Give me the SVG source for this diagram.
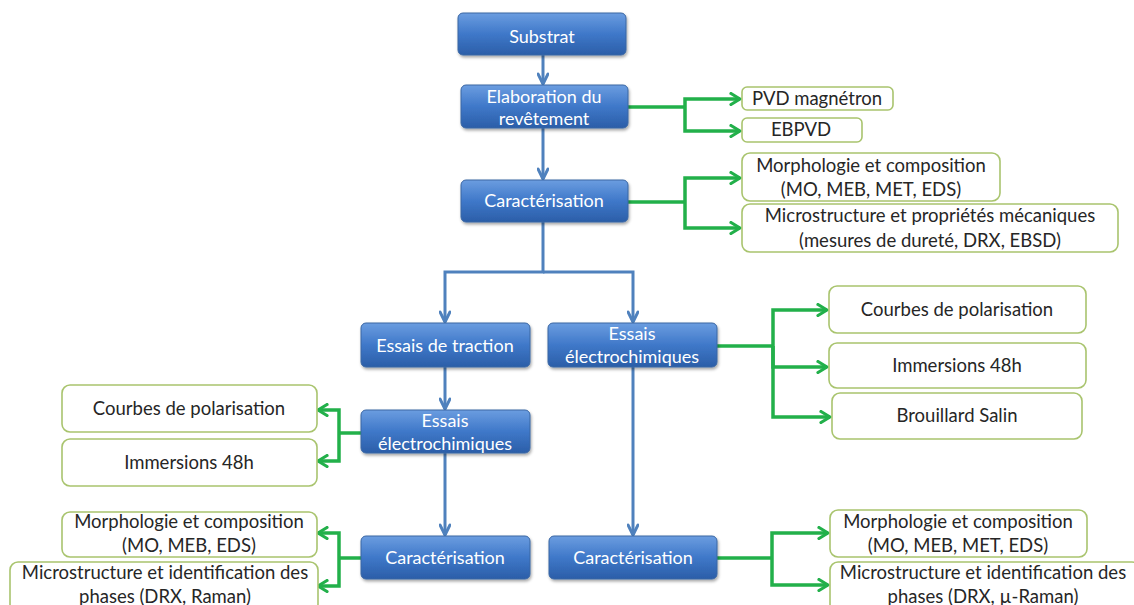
<svg xmlns="http://www.w3.org/2000/svg" width="1134" height="605" viewBox="0 0 1134 605">
<defs>
<linearGradient id="bg" x1="0" y1="0" x2="0" y2="1">
<stop offset="0" stop-color="#6b9de0"/>
<stop offset="0.5" stop-color="#3f78c9"/>
<stop offset="1" stop-color="#2b5ea8"/>
</linearGradient>
<filter id="sh" x="-10%" y="-20%" width="120%" height="150%">
<feDropShadow dx="1" dy="2" stdDeviation="1.5" flood-color="#000" flood-opacity="0.35"/>
</filter>
<marker id="ab" viewBox="0 0 14 12" refX="12" refY="6" markerWidth="14" markerHeight="12" markerUnits="userSpaceOnUse" orient="auto">
<path d="M2,1 L12,6 L2,11" fill="none" stroke="#4f81bd" stroke-width="3" stroke-linecap="round" stroke-linejoin="round"/>
</marker>
<marker id="ag" viewBox="0 0 14 14" refX="12" refY="7" markerWidth="14" markerHeight="14" markerUnits="userSpaceOnUse" orient="auto">
<path d="M3,1.5 L12,7 L3,12.5" fill="none" stroke="#22b04a" stroke-width="3.2" stroke-linecap="round" stroke-linejoin="round"/>
</marker>
</defs>
<style>
.b rect{fill:url(#bg);stroke:#3a66a3;stroke-width:1;filter:url(#sh)}
.b text{fill:#fff;font-family:Lato,"Open Sans","Liberation Sans",sans-serif;font-size:18px;text-anchor:middle}
.g rect{fill:#fff;stroke:#a9c46e;stroke-width:1.6}
.g text{fill:#262626;font-family:Lato,"Open Sans","Liberation Sans",sans-serif;font-size:18.5px;text-anchor:middle}
.cb path{fill:none;stroke:#4f81bd;stroke-width:3;marker-end:url(#ab)}
.cg path{fill:none;stroke:#22b04a;stroke-width:3.5;marker-end:url(#ag)}
.cg path.n,.cb path.n{marker-end:none}
</style>
<rect width="1134" height="605" fill="#fff"/>
<g id="connectors">
<g class="cb">
<path d="M543,55 V84"/>
<path d="M543,128 V179"/>
<path d="M543,222 V272 H445 V322"/>
<path d="M543,272 H633 V322"/>
<path d="M445,367 V409"/>
<path d="M445,453 V535"/>
<path d="M633,367 V535"/>
</g>
<g class="cg">
<path class="n" d="M628,107 H685"/>
<path d="M685,107 V99 H740"/>
<path d="M685,107 V131 H740"/>
<path class="n" d="M628,202 H685"/>
<path d="M685,202 V178 H740"/>
<path d="M685,202 V228 H740"/>
<path class="n" d="M717,346 H773"/>
<path d="M773,346 V310 H827"/>
<path d="M773,346 V367 H827"/>
<path d="M773,346 V417 H830"/>
<path class="n" d="M361,433 H339"/>
<path d="M339,433 V410 H318"/>
<path d="M339,433 V461 H318"/>
<path class="n" d="M361,558 H339"/>
<path d="M339,558 V533 H318"/>
<path d="M339,558 V586 H318"/>
<path class="n" d="M717,558 H772"/>
<path d="M772,558 V533 H828"/>
<path d="M772,558 V585 H828"/>
</g>
</g>
<g id="substrat" class="b"><rect x="458" y="13" width="168" height="42" rx="5"/><text x="542" y="43">Substrat</text></g>
<g id="elaboration" class="b"><rect x="461" y="85" width="167" height="43" rx="5"/><text x="544" y="103">Elaboration du</text><text x="544" y="125">revêtement</text></g>
<g id="caracterisation1" class="b"><rect x="461" y="180" width="167" height="42" rx="5"/><text x="544" y="207">Caractérisation</text></g>
<g id="traction" class="b"><rect x="361" y="323" width="169" height="44" rx="5"/><text x="445" y="352">Essais de traction</text></g>
<g id="electro_droite" class="b"><rect x="548" y="323" width="169" height="44" rx="5"/><text x="632" y="340">Essais</text><text x="632" y="363">électrochimiques</text></g>
<g id="electro_gauche" class="b"><rect x="361" y="410" width="169" height="43" rx="5"/><text x="445" y="427">Essais</text><text x="445" y="450">électrochimiques</text></g>
<g id="caracterisation_gauche" class="b"><rect x="361" y="536" width="169" height="43" rx="5"/><text x="445" y="564">Caractérisation</text></g>
<g id="caracterisation_droite" class="b"><rect x="549" y="536" width="168" height="43" rx="5"/><text x="633" y="564">Caractérisation</text></g>
<g id="pvd" class="g"><rect x="742" y="87" width="151" height="23" rx="5"/><text x="817" y="105">PVD magnétron</text></g>
<g id="ebpvd" class="g"><rect x="742" y="118" width="120" height="24" rx="5"/><text x="801" y="136">EBPVD</text></g>
<g id="morpho1" class="g"><rect x="742" y="153" width="258" height="48" rx="8"/><text x="871" y="172">Morphologie et composition</text><text x="871" y="196">(MO, MEB, MET, EDS)</text></g>
<g id="micro1" class="g"><rect x="742" y="204" width="376" height="48" rx="8"/><text x="930" y="222">Microstructure et propriétés mécaniques</text><text x="930" y="247">(mesures de dureté, DRX, EBSD)</text></g>
<g id="courbes_d" class="g"><rect x="829" y="286" width="257" height="47" rx="8"/><text x="957" y="316">Courbes de polarisation</text></g>
<g id="immersions_d" class="g"><rect x="829" y="343" width="257" height="45" rx="8"/><text x="957" y="372">Immersions 48h</text></g>
<g id="brouillard" class="g"><rect x="832" y="393" width="250" height="46" rx="8"/><text x="957" y="422">Brouillard Salin</text></g>
<g id="courbes_g" class="g"><rect x="62" y="385" width="255" height="47" rx="8"/><text x="189" y="415">Courbes de polarisation</text></g>
<g id="immersions_g" class="g"><rect x="62" y="439" width="255" height="47" rx="8"/><text x="189" y="469">Immersions 48h</text></g>
<g id="morpho_g" class="g"><rect x="62" y="512" width="255" height="45" rx="8"/><text x="189" y="528">Morphologie et composition</text><text x="189" y="552">(MO, MEB, EDS)</text></g>
<g id="micro_g" class="g"><rect x="10" y="562" width="308" height="50" rx="8"/><text x="165" y="579">Microstructure et identification des</text><text x="165" y="603">phases (DRX, Raman)</text></g>
<g id="morpho_d" class="g"><rect x="830" y="510" width="257" height="47" rx="8"/><text x="958" y="528">Morphologie et composition</text><text x="958" y="552">(MO, MEB, MET, EDS)</text></g>
<g id="micro_d" class="g"><rect x="830" y="562" width="310" height="50" rx="8"/><text x="983" y="579">Microstructure et identification des</text><text x="983" y="603">phases (DRX, µ-Raman)</text></g>
</svg>
